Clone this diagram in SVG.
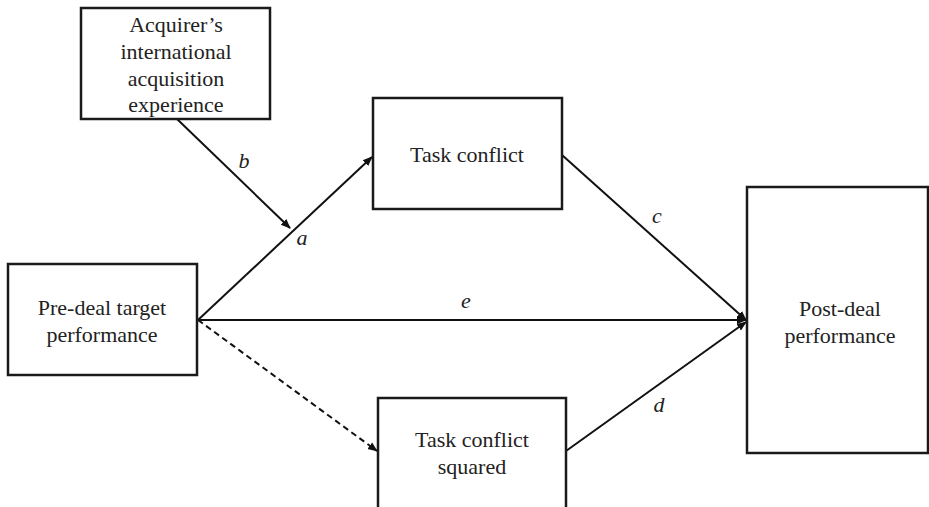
<svg xmlns="http://www.w3.org/2000/svg" width="929" height="507" viewBox="0 0 929 507">
<defs>
<marker id="ah" viewBox="0 0 10 10" refX="9" refY="5" markerWidth="5" markerHeight="5" orient="auto" markerUnits="strokeWidth">
<path d="M0,1 L10,5 L0,9 Z" fill="#111"/>
</marker>
<style>
.box{fill:#fff;stroke:#1a1a1a;stroke-width:2.5}
.t{font-family:"Liberation Serif","Times New Roman",serif;font-size:22px;fill:#222;text-anchor:middle}
.lbl{font-family:"Liberation Serif","Times New Roman",serif;font-size:22px;font-style:italic;fill:#222;text-anchor:middle}
.ln{stroke:#111;stroke-width:2;fill:none;marker-end:url(#ah)}
.dash{stroke-dasharray:6,4}
</style>
</defs>
<rect width="929" height="507" fill="#fff"/>
<g id="connectors">
<line class="ln" x1="177" y1="119" x2="290" y2="228"/>
<line class="ln" x1="198" y1="320" x2="372" y2="157"/>
<line class="ln dash" x1="198" y1="320" x2="377" y2="451"/>
<line class="ln" x1="198" y1="320" x2="746" y2="320"/>
<line class="ln" x1="562" y1="155" x2="746" y2="320"/>
<line class="ln" x1="566" y1="451" x2="746" y2="322"/>
<text class="lbl" x="244" y="168">b</text>
<text class="lbl" x="302" y="245">a</text>
<text class="lbl" x="657" y="223">c</text>
<text class="lbl" x="466" y="308">e</text>
<text class="lbl" x="659" y="412">d</text>
</g>
<g id="acquirer">
<rect class="box" x="81" y="8" width="189" height="111"/>
<text class="t" x="176" y="32">Acquirer’s</text>
<text class="t" x="176" y="59">international</text>
<text class="t" x="176" y="86">acquisition</text>
<text class="t" x="176" y="112">experience</text>
</g>
<g id="task-conflict">
<rect class="box" x="373" y="98" width="189" height="111"/>
<text class="t" x="467" y="162">Task conflict</text>
</g>
<g id="pre-deal">
<rect class="box" x="8" y="264" width="189" height="111"/>
<text class="t" x="102" y="315">Pre-deal target</text>
<text class="t" x="102" y="342">performance</text>
</g>
<g id="task-conflict-squared">
<rect class="box" x="378" y="398" width="188" height="120"/>
<text class="t" x="472" y="447">Task conflict</text>
<text class="t" x="472" y="474">squared</text>
</g>
<g id="post-deal">
<rect class="box" x="747" y="187" width="181" height="266"/>
<text class="t" x="840" y="316">Post-deal</text>
<text class="t" x="840" y="343">performance</text>
</g>
</svg>
